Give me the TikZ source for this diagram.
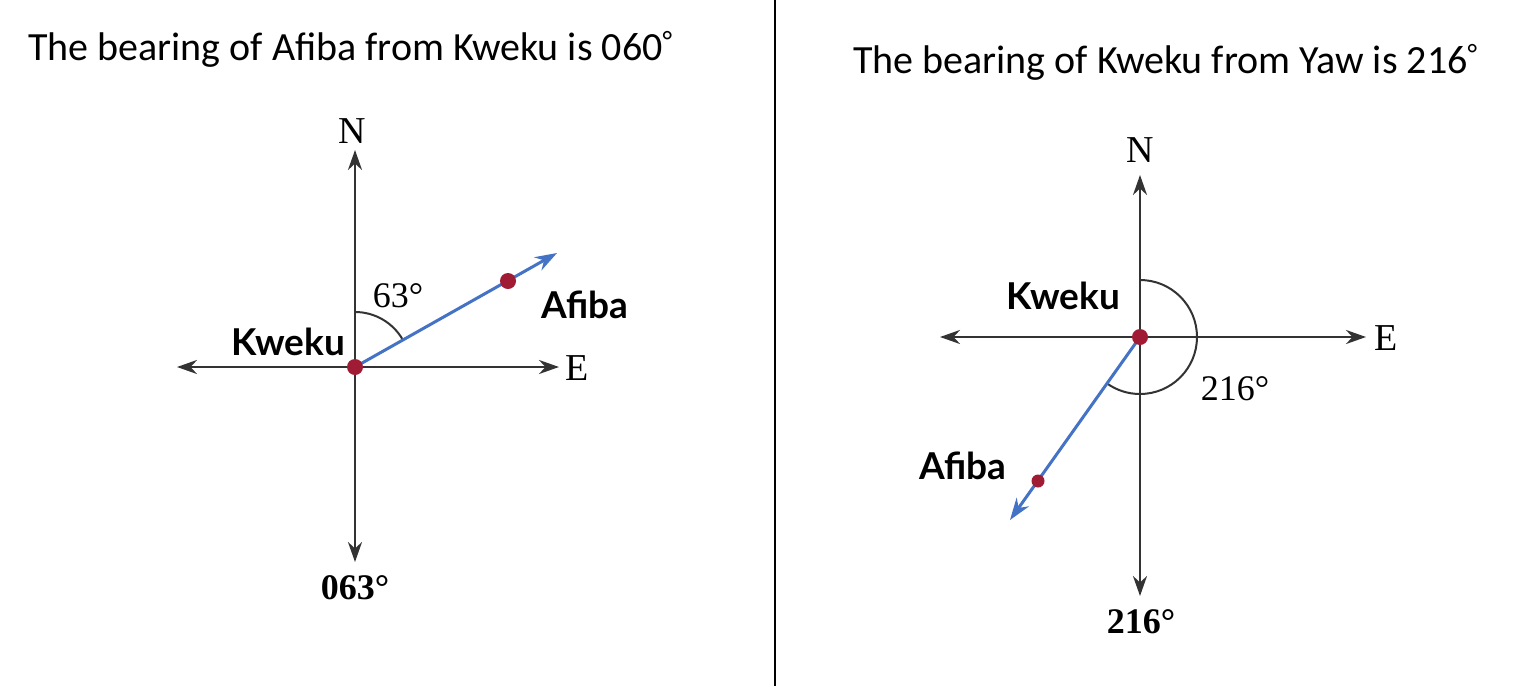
\documentclass[tikz,border=0pt]{standalone}
\usepackage{fontspec}
\setmainfont{Liberation Serif}
\newfontfamily\titlefont{Carlito}
\newfontfamily\lblfont{Lato}
\usetikzlibrary{arrows.meta}
\begin{document}
\begin{tikzpicture}[x=1pt,y=-1pt,
  axisarrow/.style={line width=2.6pt, draw=black!80, -{Stealth[length=20pt,width=14pt]}},
  bluearrow/.style={line width=3pt, draw={rgb,255:red,68;green,114;blue,196}, -{Stealth[length=22pt,width=15pt]}},
  angarc/.style={line width=2pt, draw=black!80},
  ptdot/.style={circle, fill={rgb,255:red,160;green,28;blue,52}, inner sep=0pt, minimum size=16pt},
  ttllbl/.style={font=\titlefont\fontsize{40}{48}\selectfont, anchor=base west, inner sep=0pt},
  dirlbl/.style={font=\fontsize{38}{44}\selectfont, inner sep=0pt},
  namelbl/.style={font=\lblfont\bfseries\fontsize{37}{42}\selectfont, inner sep=0pt},
  anglbl/.style={font=\fontsize{36}{42}\selectfont, inner sep=0pt},
  bearlbl/.style={font=\bfseries\fontsize{36}{42}\selectfont, inner sep=0pt}]
\useasboundingbox (0,0) rectangle (1540,686);
\fill[white] (0,0) rectangle (1540,686);
% separator
\coordinate (sepT) at (775,0);
\coordinate (sepB) at (775,686);
\draw[line width=2.4pt] (sepT) -- (sepB);

% titles
\node[ttllbl] (t1) at (28,60) {The bearing of Afiba from Kweku is 060\textsuperscript{°}};
\node[ttllbl] (t2) at (853,73) {The bearing of Kweku from Yaw is 216\textsuperscript{°}};

% ---------- left diagram ----------
\coordinate (K1) at (355,367);
\coordinate (N1) at (355,150);
\coordinate (S1) at (355,562);
\coordinate (W1) at (177,367);
\coordinate (E1) at (559,367);
\coordinate (T1) at (557,253);
\draw[axisarrow] (K1) -- (N1);
\draw[axisarrow] (K1) -- (S1);
\draw[axisarrow] (K1) -- (W1);
\draw[axisarrow] (K1) -- (E1);
\draw[angarc] (K1) ++(0,-55) arc[start angle=-90, end angle=-29.4, radius=55];
\draw[bluearrow] (K1) -- (T1);
\node[ptdot] (K1dot) at (K1) {};
\node[ptdot] (A1) at (508,281) {};
\node[dirlbl] (N1l) at (352,131) {N};
\node[dirlbl] (E1l) at (577,368) {E};
\node[anglbl] (a1) at (398,296) {63°};
\node[bearlbl] (b1) at (355,588) {063°};
\node[namelbl] (k1l) at (288,342) {Kweku};
\node[namelbl] (a1l) at (585,305) {Afiba};

% ---------- right diagram ----------
\coordinate (K2) at (1140,337);
\coordinate (N2) at (1140,175);
\coordinate (S2) at (1140,596);
\coordinate (W2) at (940,337);
\coordinate (E2) at (1366,337);
\coordinate (T2) at (1010,520);
\draw[axisarrow] (K2) -- (N2);
\draw[axisarrow] (K2) -- (S2);
\draw[axisarrow] (K2) -- (W2);
\draw[axisarrow] (K2) -- (E2);
\draw[angarc] (K2) ++(0,-57) arc[start angle=-90, end angle=125.4, radius=57];
\draw[bluearrow] (K2) -- (T2);
\node[ptdot] (K2dot) at (K2) {};
\node[ptdot, minimum size=13pt] (A2) at (1038,481) {};
\node[dirlbl] (N2l) at (1140,150) {N};
\node[dirlbl] (E2l) at (1386,338) {E};
\node[anglbl] (a2) at (1235,389) {216°};
\node[bearlbl] (b2) at (1141,622) {216°};
\node[namelbl] (k2l) at (1063,296) {Kweku};
\node[namelbl] (a2l) at (963,466) {Afiba};
\end{tikzpicture}
\end{document}
